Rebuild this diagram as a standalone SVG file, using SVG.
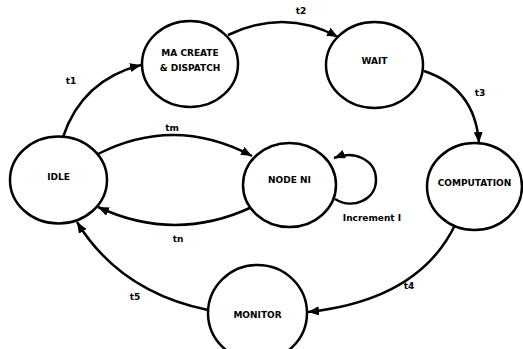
<svg xmlns="http://www.w3.org/2000/svg" width="523" height="349" viewBox="0 0 523 349">
<defs>
<marker id="arr" markerUnits="userSpaceOnUse" markerWidth="12" markerHeight="10" refX="11" refY="4.5" orient="auto">
<path d="M0,0 L11,4.5 L0,9 z" fill="#000"/>
</marker>
<style>
.n{fill:#fff;stroke:#000;stroke-width:2.5}
.t{font-family:"DejaVu Sans",sans-serif;font-weight:bold;font-size:9px;fill:#000;text-anchor:middle}
.c{fill:none;stroke:#000;stroke-width:2.5;marker-end:url(#arr)}
</style>
</defs>
<rect width="523" height="349" fill="#fff"/>
<g id="connectors">
<path class="c" d="M63,137 Q82,80 141,65"/>
<path class="c" d="M228,35 Q285,8 338,37"/>
<path class="c" d="M424,71 Q475,88 479,143"/>
<path class="c" d="M456,223 Q420,300 308,312"/>
<path class="c" d="M208,310 Q120,292 77,222"/>
<path class="c" d="M98,154 Q175,115 252,156"/>
<path class="c" d="M252,207 Q175,243 98,207"/>
<path class="c" d="M335,199 C352,210 376,200 376,180 C376,160 355,150 334,158"/>
<text class="t" x="71" y="84">t1</text>
<text class="t" x="301" y="14">t2</text>
<text class="t" x="480" y="96">t3</text>
<text class="t" x="172" y="131">tm</text>
<text class="t" x="178" y="242">tn</text>
<text class="t" x="135" y="300">t5</text>
<text class="t" x="409" y="289">t4</text>
<text class="t" x="372" y="221">Increment I</text>
</g>
<g id="ma"><ellipse class="n" cx="190" cy="64" rx="48" ry="43"/><text class="t" x="190" y="56">MA CREATE</text><text class="t" x="190" y="71">&amp; DISPATCH</text></g>
<g id="wait"><ellipse class="n" cx="374.5" cy="65" rx="48.5" ry="43"/><text class="t" x="374.5" y="64">WAIT</text></g>
<g id="idle"><ellipse class="n" cx="58.5" cy="180" rx="48.5" ry="43.5"/><text class="t" x="58.5" y="180">IDLE</text></g>
<g id="nodeni"><ellipse class="n" cx="289.5" cy="185" rx="46.5" ry="42"/><text class="t" x="289.5" y="183">NODE NI</text></g>
<g id="computation"><ellipse class="n" cx="474.5" cy="186.5" rx="47.5" ry="43.5"/><text class="t" x="474.5" y="186">COMPUTATION</text></g>
<g id="monitor"><ellipse class="n" cx="257.5" cy="313" rx="49.5" ry="48"/><text class="t" x="257.5" y="318">MONITOR</text></g>
</svg>
